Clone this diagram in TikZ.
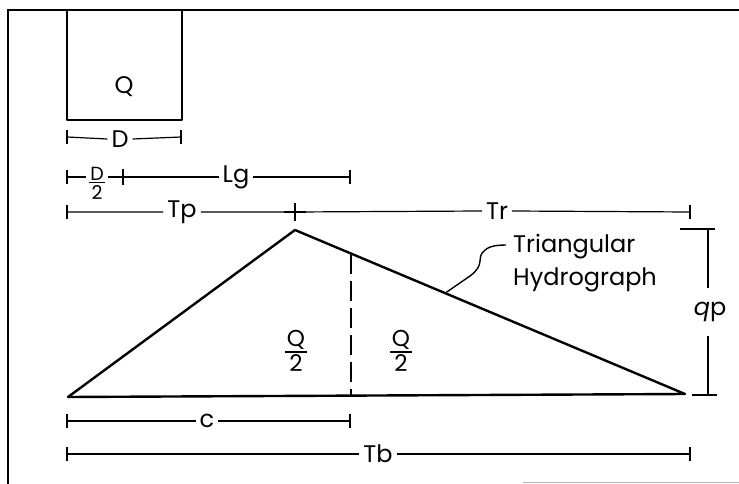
\documentclass[tikz,border=0pt]{standalone}
\usepackage{fontspec}
\setmainfont{Poppins}
\usetikzlibrary{calc}
\newcommand{\myfrac}[2]{$\textstyle{\mbox{\kern1.5pt#1\kern1.5pt}\above1.6pt\mbox{#2}}$}
\begin{document}
\begin{tikzpicture}[x=1pt,y=-1pt,
  heavy/.style={line width=2.4pt,line join=round},
  dimln/.style={line width=1.2pt},
  tickmark/.style={line width=1.6pt},
  lbl/.style={font=\fontsize{24}{30}\selectfont,inner sep=4pt},
  frlbl/.style={font=\fontsize{19}{22}\selectfont,inner sep=1pt},
  frlblb/.style={font=\fontsize{23}{27}\selectfont,inner sep=2pt}]
\useasboundingbox (0,0) rectangle (739,484);
% frame
\coordinate (fBL) at (8,484);
\coordinate (fTL) at (8,10);
\coordinate (fTR) at (739,10);
\draw[line width=2.2pt] (fBL) -- (fTL) -- (fTR);
\coordinate (gL) at (523,482);
\coordinate (gR) at (739,482);
\draw[gray!60,line width=1pt] (gL) -- (gR);
% rainfall block
\node[heavy,draw,minimum width=115pt,minimum height=110pt,inner sep=0pt] (blk) at (124.5,65) {};
\node[lbl] (q) at (124,87) {Q};
% D dimension
\coordinate (dL) at (67,137);
\coordinate (dR) at (181,137);
\node[lbl] (d) at (120,139) {D};
\draw[dimln] (dL) -- (d.west) (d.east) -- (dR);
\draw[tickmark] (dL) ++(0,-7) -- ++(0,14);
\draw[tickmark] (dR) ++(0,-7) -- ++(0,14);
% D/2 + Lg
\coordinate (lL) at (67,177);
\coordinate (lM) at (123,177);
\coordinate (lR) at (350,177);
\node[frlbl] (dh) at (97,183) {\myfrac{D}{2}};
\node[lbl] (lg) at (236,177) {Lg};
\draw[dimln] (lL) -- (dh.west|-lL) (dh.east|-lL) -- (lM) -- (lg.west) (lg.east) -- (lR);
\draw[tickmark] (lL) ++(0,-7) -- ++(0,14);
\draw[tickmark] (lM) ++(0,-8) -- ++(0,16);
\draw[tickmark] (lR) ++(0,-7) -- ++(0,14);
% Tp / Tr
\coordinate (tL) at (67,212);
\coordinate (tM) at (295,212);
\coordinate (tR) at (690,212);
\node[lbl] (tp) at (182,212) {Tp};
\node[lbl] (tr) at (497,211) {Tr};
\draw[dimln] (tL) -- (tp.west) (tp.east) -- (tM) -- (tr.west) (tr.east) -- (tR);
\draw[tickmark] (tL) ++(0,-7) -- ++(0,14);
\draw[tickmark] (tM) ++(0,-9) -- ++(0,18);
\draw[line width=2.4pt] (tM) ++(-11,0) -- ++(22,0);
\draw[tickmark] (tR) ++(0,-7) -- ++(0,14);
% triangle
\coordinate (A) at (68,397);
\coordinate (P) at (295,230);
\coordinate (B) at (685,394);
\draw[heavy] (A) -- (P) -- (B) -- cycle;
\coordinate (S) at ($(P)!0.1436!(B)$);
\coordinate (Sb) at ($(A)!0.4716!(B)$);
\draw[line width=2pt,dash pattern=on 20pt off 7pt] (S) -- (S|-Sb);
\node[frlblb] (h1) at (296,351) {\myfrac{Q}{2}};
\node[frlblb] (h2) at (401,351) {\myfrac{Q}{2}};
% label and leader
\node[lbl,align=left,anchor=west,font=\fontsize{24}{33}\selectfont] (th) at (509,263) {Triangular\\Hydrograph};
\coordinate (lead) at ($(P)!0.385!(B)$);
\draw[line width=1.4pt] (lead) -- (470,276) .. controls (485,265) and (477,258) .. (483,252) .. controls (487,247) and (494,245) .. (506,245);
% qp
\coordinate (qT) at (708,229);
\coordinate (qB) at (708,395);
\node[lbl,inner ysep=14pt] (qp) at (710,312) {{\itshape q}p};
\draw[dimln] (qT) -- (qT|-qp.north) (qB|-qp.south) -- (qB);
\draw[tickmark] (680,229) -- (qT) -- ++(7,0);
\draw[tickmark] (692,395) -- (qB) -- ++(9,0);
% c
\coordinate (cL) at (67,421);
\coordinate (cR) at (350,421);
\node[lbl] (c) at (207,421) {c};
\draw[dimln] (cL) -- (c.west) (c.east) -- (cR);
\draw[tickmark] (cL) ++(0,-7) -- ++(0,14);
\draw[tickmark] (cR) ++(0,-7) -- ++(0,14);
% Tb
\coordinate (bL) at (67,454);
\coordinate (bR) at (690,454);
\node[lbl] (tb) at (378,454) {Tb};
\draw[dimln] (bL) -- (tb.west) (tb.east) -- (bR);
\draw[tickmark] (bL) ++(0,-7) -- ++(0,14);
\draw[tickmark] (bR) ++(0,-7) -- ++(0,14);
\end{tikzpicture}
\end{document}
